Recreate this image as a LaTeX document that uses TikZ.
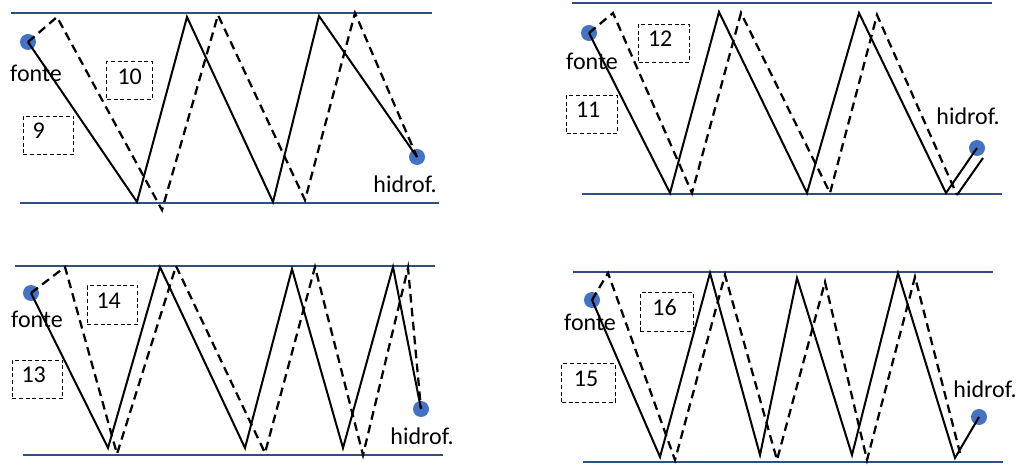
\documentclass[tikz,border=0pt]{standalone}
\usepackage{fontspec}
\setmainfont{Carlito}
\begin{document}
\begin{tikzpicture}[x=0.75pt,y=-0.75pt,
  wall/.style={draw={rgb,255:red,47;green,79;blue,130},line width=1.6pt},
  dot/.style={circle,fill={rgb,255:red,68;green,114;blue,196},minimum size=12pt,inner sep=0pt},
  ray/.style={black,line width=1.5pt,line join=miter},
  dray/.style={black,line width=1.7pt,dash pattern=on 6.5pt off 4pt},
  lbl/.style={font=\fontsize{18}{20}\selectfont,inner sep=0pt},
  numbox/.style={draw,dashed,dash pattern=on 3pt off 2pt,line width=0.6pt,font=\fontsize{18}{20}\selectfont,inner sep=0pt}]
\useasboundingbox (0,0) rectangle (1024,466);
% ---------- panel 1 ----------
\coordinate (p1tl) at (11,13); \coordinate (p1tr) at (432,13);
\coordinate (p1bl) at (20,203); \coordinate (p1br) at (439,203);
\draw[wall] (p1tl) -- (p1tr); \draw[wall] (p1bl) -- (p1br);
\node[dot] (s1) at (28,42) {}; \node[dot] (h1) at (417,157) {};
\node[lbl] (f1) at (36,73) {fonte}; \node[lbl] (hl1) at (405,184) {hidrof.};
\node[numbox] (b10) at (129.5,80.5) {\makebox[34pt][l]{\hspace{8pt}10}\rule[-11pt]{0pt}{28pt}};
\node[numbox] (b9) at (48.5,135.5) {\makebox[38pt][l]{\hspace{7pt}9}\rule[-12pt]{0pt}{29pt}};
\coordinate (a1) at (137,202); \coordinate (a2) at (187,17); \coordinate (a3) at (273,202); \coordinate (a4) at (319,16);
\draw[ray] (s1.center) -- (a1) -- (a2) -- (a3) -- (a4) -- (h1.center);
\coordinate (d1) at (57,17); \coordinate (d2) at (162,210); \coordinate (d3) at (218,15); \coordinate (d4) at (305,200); \coordinate (d5) at (355,13);
\draw[dray] (s1.center) -- (d1) -- (d2) -- (d3) -- (d4) -- (d5) -- (h1.center);
% ---------- panel 2 ----------
\coordinate (p2tl) at (572,3); \coordinate (p2tr) at (992,3);
\coordinate (p2bl) at (582,194); \coordinate (p2br) at (1002,194);
\draw[wall] (p2tl) -- (p2tr); \draw[wall] (p2bl) -- (p2br);
\node[dot] (s2) at (589,33) {}; \node[dot] (h2) at (977,148) {};
\node[lbl] (f2) at (592,61) {fonte}; \node[lbl] (hl2) at (968,116) {hidrof.};
\node[numbox] (b12) at (664,43.5) {\makebox[38pt][l]{\hspace{7pt}12}\rule[-12pt]{0pt}{29pt}};
\node[numbox] (b11) at (592,114.5) {\makebox[38pt][l]{\hspace{7pt}11}\rule[-12pt]{0pt}{29pt}};
\coordinate (e1) at (670,193); \coordinate (e2) at (719,12); \coordinate (e3) at (807,193); \coordinate (e4) at (859,13); \coordinate (e5) at (946,193);
\draw[ray] (s2.center) -- (e1) -- (e2) -- (e3) -- (e4) -- (e5) -- (h2.center);
\coordinate (g1) at (613,13); \coordinate (g2) at (692,193); \coordinate (g3) at (741,13); \coordinate (g4) at (830,193); \coordinate (g5) at (877,15); \coordinate (g6) at (957,195); \coordinate (g7) at (983,158);
\draw[dray] (s2.center) -- (g1) -- (g2) -- (g3) -- (g4) -- (g5) -- (g6);
\draw[ray] (g6) -- (g7);
% ---------- panel 3 ----------
\coordinate (p3tl) at (15,266); \coordinate (p3tr) at (435,266);
\coordinate (p3bl) at (23,455); \coordinate (p3br) at (443,455);
\draw[wall] (p3tl) -- (p3tr); \draw[wall] (p3bl) -- (p3br);
\node[dot] (s3) at (31,293) {}; \node[dot] (h3) at (421,409) {};
\node[lbl] (f3) at (37,319) {fonte}; \node[lbl] (hl3) at (422,436) {hidrof.};
\node[numbox] (b14) at (112.5,305) {\makebox[38pt][l]{\hspace{7pt}14}\rule[-12pt]{0pt}{29pt}};
\node[numbox] (b13) at (37.5,379.5) {\makebox[38pt][l]{\hspace{7pt}13}\rule[-12pt]{0pt}{29pt}};
\coordinate (k1) at (108,448); \coordinate (k2) at (160,267); \coordinate (k3) at (245,448); \coordinate (k4) at (292,269); \coordinate (k5) at (343,448); \coordinate (k6) at (393,267);
\draw[ray] (s3.center) -- (k1) -- (k2) -- (k3) -- (k4) -- (k5) -- (k6) -- (h3.center);
\coordinate (m1) at (65,267); \coordinate (m2) at (117,454); \coordinate (m3) at (176,266); \coordinate (m4) at (265,453); \coordinate (m5) at (315,267); \coordinate (m6) at (363,455); \coordinate (m7) at (408,268);
\draw[dray] (s3.center) -- (m1) -- (m2) -- (m3) -- (m4) -- (m5) -- (m6) -- (m7) -- (h3.center);
% ---------- panel 4 ----------
\coordinate (p4tl) at (573,272); \coordinate (p4tr) at (993,272);
\coordinate (p4bl) at (583,462); \coordinate (p4br) at (1003,462);
\draw[wall] (p4tl) -- (p4tr); \draw[wall] (p4bl) -- (p4br);
\node[dot] (s4) at (592,300) {}; \node[dot] (h4) at (979,417) {};
\node[lbl] (f4) at (590,322) {fonte}; \node[lbl] (hl4) at (985,389) {hidrof.};
\node[numbox] (b16) at (667,312) {\makebox[40pt][l]{\hspace{9pt}16}\rule[-12pt]{0pt}{29pt}};
\node[numbox] (b15) at (588.5,383) {\makebox[40pt][l]{\hspace{9pt}15}\rule[-12pt]{0pt}{29pt}};
\coordinate (n1) at (660,457); \coordinate (n2) at (710,273); \coordinate (n3) at (760,455); \coordinate (n4) at (797,278); \coordinate (n5) at (852,455); \coordinate (n6) at (898,273); \coordinate (n7) at (955,458);
\draw[ray] (s4.center) -- (n1) -- (n2) -- (n3) -- (n4) -- (n5) -- (n6) -- (n7) -- (h4.center);
\coordinate (q1) at (608,273); \coordinate (q2) at (675,460); \coordinate (q3) at (725,275); \coordinate (q4) at (777,460); \coordinate (q5) at (825,282); \coordinate (q6) at (867,460); \coordinate (q7) at (915,277); \coordinate (q8) at (960,453);
\draw[dray] (s4.center) -- (q1) -- (q2) -- (q3) -- (q4) -- (q5) -- (q6) -- (q7) -- (q8);
\end{tikzpicture}
\end{document}
